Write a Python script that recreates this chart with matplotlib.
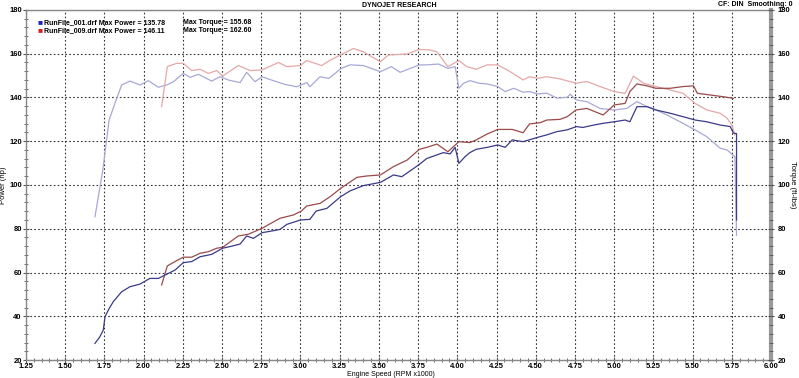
import numpy as np
import matplotlib.pyplot as plt
from matplotlib.ticker import MultipleLocator

# RunFile_001 (blue) power / torque
bp_rpm = [1.69, 1.72, 1.743, 1.754, 1.78, 1.807, 1.86, 1.913, 1.977, 2.04, 2.094, 2.147, 2.20,
          2.253, 2.307, 2.36, 2.434, 2.504, 2.56, 2.615, 2.657, 2.70, 2.755, 2.827, 2.87, 2.913,
          3.0, 3.06, 3.10, 3.168, 3.257, 3.316, 3.40, 3.51, 3.593, 3.646, 3.70, 3.758, 3.805,
          3.911, 3.954, 3.986, 4.01, 4.05, 4.08, 4.12, 4.19, 4.258, 4.305, 4.35, 4.42, 4.513,
          4.57, 4.635, 4.70, 4.76, 4.80, 4.87, 4.93, 5.0, 5.07, 5.10, 5.145, 5.21, 5.266, 5.357,
          5.44, 5.516, 5.59, 5.676, 5.74, 5.76, 5.78, 5.78]
bp_val = [27.6, 30.5, 33.7, 39.8, 43.5, 46.7, 51.2, 53.5, 54.7, 57.3, 57.3, 59.2, 61.1,
          64.5, 65.0, 67.2, 68.3, 71.1, 72.0, 73.0, 76.7, 75.6, 78.2, 79.1, 79.7, 82.0,
          84.0, 84.3, 88.1, 89.3, 94.7, 97.3, 99.7, 101.2, 104.6, 103.8, 106.5, 109.4, 112.1,
          114.8, 114.2, 117.2, 109.9, 113.0, 114.8, 116.3, 117.2, 118.3, 117.2, 120.6, 119.8, 121.8,
          122.9, 124.4, 125.2, 126.7, 126.3, 127.4, 128.2, 128.9, 129.7, 128.9, 135.8, 135.8, 134.3, 132.8,
          131.2, 129.7, 128.9, 127.4, 126.7, 123.7, 123.5, 84.0]

bt_rpm = [1.69, 1.74, 1.78, 1.817, 1.86, 1.913, 1.977, 2.03, 2.094, 2.147, 2.19, 2.253, 2.296,
          2.35, 2.434, 2.487, 2.54, 2.615, 2.657, 2.71, 2.755, 2.827, 2.90, 2.976, 3.04, 3.06,
          3.125, 3.18, 3.26, 3.316, 3.40, 3.51, 3.58, 3.635, 3.70, 3.758, 3.805, 3.88, 3.94,
          3.986, 4.01, 4.04, 4.08, 4.14, 4.19, 4.258, 4.305, 4.36, 4.42, 4.46, 4.513, 4.57,
          4.635, 4.70, 4.72, 4.757, 4.826, 4.91, 5.0, 5.08, 5.145, 5.21, 5.266, 5.336, 5.42,
          5.516, 5.59, 5.676, 5.72, 5.77, 5.78]
bt_val = [85.5, 106.9, 129.7, 137.3, 145.7, 147.5, 145.7, 147.7, 144.7, 145.7, 147.2, 151.0, 149.2,
          150.6, 147.5, 149.5, 148.0, 146.8, 151.5, 147.2, 149.5, 147.7, 146.0, 144.9, 146.8, 144.9,
          149.5, 148.7, 153.3, 154.9, 154.6, 151.8, 154.1, 151.5, 153.3, 154.9, 154.9, 155.3, 153.3,
          154.1, 144.2, 146.5, 147.7, 146.5, 146.2, 145.0, 142.7, 144.2, 142.4, 142.7, 141.6, 142.0,
          139.7, 140.1, 141.5, 138.9, 138.1, 135.0, 134.3, 135.0, 138.1, 135.8, 134.3, 132.0, 128.9,
          125.2, 122.1, 116.8, 116.0, 112.9, 77.0]

# RunFile_009 (red) power / torque
rp_rpm = [2.115, 2.151, 2.21, 2.253, 2.307, 2.36, 2.413, 2.466, 2.504, 2.604, 2.668, 2.755, 2.87,
          2.955, 3.006, 3.04, 3.125, 3.19, 3.257, 3.36, 3.42, 3.51, 3.593, 3.68, 3.758, 3.805,
          3.87, 3.94, 4.01, 4.08, 4.12, 4.19, 4.258, 4.35, 4.42, 4.46, 4.53, 4.57, 4.655, 4.70,
          4.757, 4.826, 4.93, 5.0, 5.07, 5.10, 5.145, 5.21, 5.266, 5.357, 5.44, 5.506, 5.53,
          5.616, 5.70, 5.76]
rp_val = [54.3, 63.0, 65.4, 67.0, 67.0, 68.8, 69.5, 71.1, 71.5, 76.7, 77.5, 80.2, 84.8,
          86.3, 88.1, 90.4, 91.6, 94.7, 98.5, 103.5, 104.1, 104.6, 108.4, 111.4, 116.3, 117.2,
          118.7, 115.2, 119.8, 119.4, 120.6, 123.3, 125.4, 125.4, 123.9, 127.9, 128.5, 129.7, 130.0, 131.2,
          134.3, 135.0, 132.0, 136.6, 137.3, 142.7, 146.2, 145.3, 144.2, 144.2, 145.0, 145.3, 141.9,
          141.1, 140.3, 139.6]

rt_rpm = [2.115, 2.151, 2.21, 2.253, 2.307, 2.36, 2.413, 2.466, 2.504, 2.604, 2.68, 2.755, 2.86,
          2.913, 3.0, 3.04, 3.135, 3.19, 3.257, 3.338, 3.40, 3.51, 3.56, 3.68, 3.758, 3.826,
          3.87, 3.94, 4.01, 4.06, 4.12, 4.19, 4.258, 4.337, 4.42, 4.46, 4.513, 4.57, 4.655,
          4.757, 4.826, 4.91, 5.0, 5.07, 5.123, 5.187, 5.266, 5.357, 5.44, 5.516, 5.59, 5.676,
          5.72, 5.75, 5.77]
rt_val = [135.8, 154.1, 155.6, 155.6, 152.3, 152.9, 151.0, 152.3, 149.8, 154.6, 152.3, 152.6, 156.0,
          154.1, 154.6, 156.9, 154.6, 157.1, 159.5, 162.4, 160.9, 156.3, 159.4, 159.9, 162.0, 161.7,
          160.9, 154.1, 156.9, 154.1, 152.9, 154.9, 154.9, 151.8, 148.0, 149.5, 148.8, 149.5, 148.5,
          146.5, 147.3, 145.0, 142.7, 141.9, 149.8, 146.5, 145.0, 143.4, 141.9, 137.3, 134.3, 132.8,
          130.5, 127.4, 122.9]

legend_lines = ["RunFile_001.drf Max Power = 135.78", "RunFile_009.drf Max Power = 146.11"]
legend_torque = ["Max Torque = 155.68", "Max Torque = 162.60"]

plt.rcParams['font.family'] = 'Liberation Sans'
plt.rcParams['font.weight'] = 'bold'

fig = plt.figure(figsize=(7.99, 3.78), dpi=100)
ax = fig.add_axes([0.0325, 0.0476, 0.9325, 0.926])

ax.plot(bt_rpm, bt_val, color='#a8a8d8', lw=0.9)
ax.plot(rt_rpm, rt_val, color='#e4a8a8', lw=0.9)
ax.plot(rp_rpm, rp_val, color='#9a4a4a', lw=0.9)
ax.plot(bp_rpm, bp_val, color='#3a3a88', lw=0.9)

ax.set_xlim(1.25, 6.0)
ax.set_ylim(20, 180)
ax.xaxis.set_major_locator(MultipleLocator(0.25))
ax.xaxis.set_minor_locator(MultipleLocator(0.05))
ax.yaxis.set_major_locator(MultipleLocator(20))
ax.yaxis.set_minor_locator(MultipleLocator(4))
ax.xaxis.set_major_formatter(plt.FormatStrFormatter('%.2f'))
ax.grid(True, which='major', color='#333333', ls=(0, (1.5, 2)), lw=0.8)
ax.tick_params(which='both', direction='inout', colors='#555555', labelcolor='black', labelsize=5.5)
ax.tick_params(which='major', length=4)
ax.tick_params(which='minor', length=3)
ax.tick_params(axis='x', pad=0.5)
ax.tick_params(axis='y', pad=1)

for s in ['left', 'bottom', 'top']:
    ax.spines[s].set_color('#888888')
    ax.spines[s].set_linewidth(1.0)
ax.spines['right'].set_color('#999999')
ax.spines['right'].set_linewidth(3)

ax2 = ax.twinx()
ax2.set_ylim(20, 180)
ax2.yaxis.set_major_locator(MultipleLocator(20))
ax2.yaxis.set_minor_locator(MultipleLocator(4))
ax2.tick_params(which='both', direction='inout', colors='#555555', labelcolor='black', labelsize=5.5, pad=3)
ax2.tick_params(which='major', length=4)
ax2.tick_params(which='minor', length=3)
for s in ax2.spines.values():
    s.set_visible(False)

ax.set_ylabel('Power (hp)', fontsize=5.5)
ax.yaxis.set_label_coords(-0.026, 0.5)
ax2.set_ylabel('Torque (ft-lbs)', fontsize=5.5, rotation=270)
ax2.yaxis.set_label_coords(1.034, 0.5)
ax.set_xlabel('Engine Speed (RPM x1000)', fontsize=5)
ax.xaxis.set_label_coords(0.49, -0.031)

fig.text(0.5, 0.995, 'DYNOJET RESEARCH', ha='center', va='top', fontsize=5)
fig.text(0.992, 0.998, 'CF: DIN  Smoothing: 0', ha='right', va='top', fontsize=5)

sq_colors = ['#2020c0', '#d02020']
for i in range(2):
    y = 0.940 - i * 0.021
    fig.text(0.047, y, '\u25A0', color=sq_colors[i], ha='left', va='center', fontsize=6)
    fig.text(0.055, y, legend_lines[i], ha='left', va='center', fontsize=5)
    fig.text(0.229, y, legend_torque[i], ha='left', va='center', fontsize=5)

fig.savefig('out.png', dpi=100)
